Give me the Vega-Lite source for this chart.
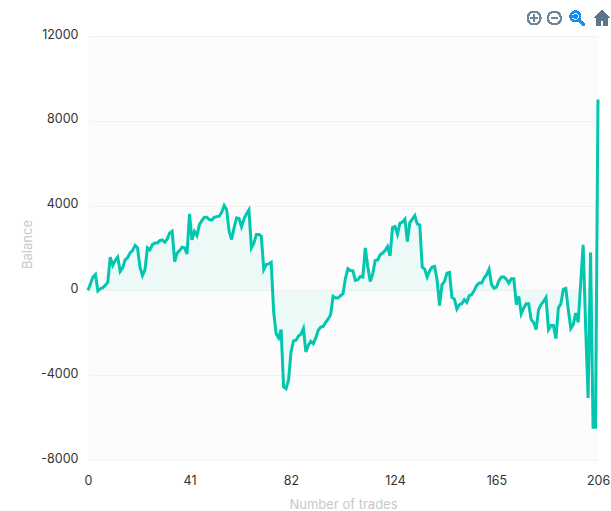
{"$schema":"https://vega.github.io/schema/vega-lite/v6.json","width":510,"height":424,"autosize":{"type":"none"},"padding":{"left":88,"top":36,"right":13,"bottom":51},"background":"#ffffff","view":{"fill":"#fcfcfc","stroke":null},"config":{"font":"Inter"},
"data":{"values":[{"trade":0,"balance":0},{"trade":1,"balance":310},{"trade":2,"balance":630},{"trade":3,"balance":750},{"trade":4,"balance":-30},{"trade":5,"balance":80},{"trade":6,"balance":130},{"trade":7,"balance":240},{"trade":8,"balance":390},{"trade":9,"balance":1570},{"trade":10,"balance":1180},{"trade":11,"balance":1410},{"trade":12,"balance":1570},{"trade":13,"balance":900},{"trade":14,"balance":1070},{"trade":15,"balance":1440},{"trade":16,"balance":1540},{"trade":17,"balance":1770},{"trade":18,"balance":1880},{"trade":19,"balance":2120},{"trade":20,"balance":2010},{"trade":21,"balance":1100},{"trade":22,"balance":700},{"trade":23,"balance":970},{"trade":24,"balance":2010},{"trade":25,"balance":1910},{"trade":26,"balance":2160},{"trade":27,"balance":2230},{"trade":28,"balance":2230},{"trade":29,"balance":2350},{"trade":30,"balance":2380},{"trade":31,"balance":2270},{"trade":32,"balance":2430},{"trade":33,"balance":2710},{"trade":34,"balance":2790},{"trade":35,"balance":1360},{"trade":36,"balance":1760},{"trade":37,"balance":1880},{"trade":38,"balance":2040},{"trade":39,"balance":2010},{"trade":40,"balance":1725},{"trade":41,"balance":3610},{"trade":42,"balance":2380},{"trade":43,"balance":2780},{"trade":44,"balance":2590},{"trade":45,"balance":3100},{"trade":46,"balance":3290},{"trade":47,"balance":3450},{"trade":48,"balance":3450},{"trade":49,"balance":3340},{"trade":50,"balance":3320},{"trade":51,"balance":3450},{"trade":52,"balance":3480},{"trade":53,"balance":3500},{"trade":54,"balance":3690},{"trade":55,"balance":4000},{"trade":56,"balance":3800},{"trade":57,"balance":2790},{"trade":58,"balance":2400},{"trade":59,"balance":2950},{"trade":60,"balance":3420},{"trade":61,"balance":3400},{"trade":62,"balance":3010},{"trade":63,"balance":3370},{"trade":64,"balance":3610},{"trade":65,"balance":3800},{"trade":66,"balance":2010},{"trade":67,"balance":2230},{"trade":68,"balance":2640},{"trade":69,"balance":2640},{"trade":70,"balance":2560},{"trade":71,"balance":990},{"trade":72,"balance":1220},{"trade":73,"balance":1250},{"trade":74,"balance":1320},{"trade":75,"balance":-1020},{"trade":76,"balance":-2040},{"trade":77,"balance":-2240},{"trade":78,"balance":-1850},{"trade":79,"balance":-4550},{"trade":80,"balance":-4640},{"trade":81,"balance":-4240},{"trade":82,"balance":-2900},{"trade":83,"balance":-2380},{"trade":84,"balance":-2350},{"trade":85,"balance":-2150},{"trade":86,"balance":-2070},{"trade":87,"balance":-1800},{"trade":88,"balance":-2900},{"trade":89,"balance":-2600},{"trade":90,"balance":-2400},{"trade":91,"balance":-2510},{"trade":92,"balance":-2240},{"trade":93,"balance":-1880},{"trade":94,"balance":-1730},{"trade":95,"balance":-1700},{"trade":96,"balance":-1510},{"trade":97,"balance":-1350},{"trade":98,"balance":-1150},{"trade":99,"balance":-280},{"trade":100,"balance":-360},{"trade":101,"balance":-360},{"trade":102,"balance":-250},{"trade":103,"balance":-160},{"trade":104,"balance":580},{"trade":105,"balance":1020},{"trade":106,"balance":940},{"trade":107,"balance":925},{"trade":108,"balance":470},{"trade":109,"balance":500},{"trade":110,"balance":660},{"trade":111,"balance":630},{"trade":112,"balance":2000},{"trade":113,"balance":1130},{"trade":114,"balance":420},{"trade":115,"balance":780},{"trade":116,"balance":1410},{"trade":117,"balance":1440},{"trade":118,"balance":1680},{"trade":119,"balance":1760},{"trade":120,"balance":1880},{"trade":121,"balance":2070},{"trade":122,"balance":1630},{"trade":123,"balance":2960},{"trade":124,"balance":3010},{"trade":125,"balance":2650},{"trade":126,"balance":3170},{"trade":127,"balance":3220},{"trade":128,"balance":3360},{"trade":129,"balance":2300},{"trade":130,"balance":3200},{"trade":131,"balance":3360},{"trade":132,"balance":3530},{"trade":133,"balance":3140},{"trade":134,"balance":3090},{"trade":135,"balance":1100},{"trade":136,"balance":1000},{"trade":137,"balance":630},{"trade":138,"balance":925},{"trade":139,"balance":1100},{"trade":140,"balance":1130},{"trade":141,"balance":500},{"trade":142,"balance":-720},{"trade":143,"balance":270},{"trade":144,"balance":420},{"trade":145,"balance":815},{"trade":146,"balance":850},{"trade":147,"balance":-330},{"trade":148,"balance":-410},{"trade":149,"balance":-880},{"trade":150,"balance":-675},{"trade":151,"balance":-630},{"trade":152,"balance":-440},{"trade":153,"balance":-565},{"trade":154,"balance":-250},{"trade":155,"balance":-200},{"trade":156,"balance":0},{"trade":157,"balance":235},{"trade":158,"balance":345},{"trade":159,"balance":345},{"trade":160,"balance":580},{"trade":161,"balance":740},{"trade":162,"balance":1000},{"trade":163,"balance":270},{"trade":164,"balance":110},{"trade":165,"balance":160},{"trade":166,"balance":470},{"trade":167,"balance":630},{"trade":168,"balance":630},{"trade":169,"balance":530},{"trade":170,"balance":345},{"trade":171,"balance":550},{"trade":172,"balance":550},{"trade":173,"balance":-675},{"trade":174,"balance":-280},{"trade":175,"balance":-1110},{"trade":176,"balance":-830},{"trade":177,"balance":-630},{"trade":178,"balance":-630},{"trade":179,"balance":-1380},{"trade":180,"balance":-1510},{"trade":181,"balance":-1850},{"trade":182,"balance":-910},{"trade":183,"balance":-675},{"trade":184,"balance":-520},{"trade":185,"balance":-330},{"trade":186,"balance":-1850},{"trade":187,"balance":-1660},{"trade":188,"balance":-1660},{"trade":189,"balance":-2270},{"trade":190,"balance":-830},{"trade":191,"balance":-630},{"trade":192,"balance":60},{"trade":193,"balance":90},{"trade":194,"balance":-910},{"trade":195,"balance":-1800},{"trade":196,"balance":-1615},{"trade":197,"balance":-1070},{"trade":198,"balance":-1510},{"trade":199,"balance":345},{"trade":200,"balance":2150},{"trade":201,"balance":-1700},{"trade":202,"balance":-5070},{"trade":203,"balance":1790},{"trade":204,"balance":-6460},{"trade":205,"balance":-6460},{"trade":206,"balance":9000}]},
"layer":[
{"mark":{"type":"area","color":"#00c4ac","opacity":0.06,"interpolate":"linear"},"encoding":{
"x":{"field":"trade","type":"quantitative","scale":{"domain":[0,206],"nice":false,"zero":false},"axis":{"values":[0,41,82,124,165,206],"title":"Number of trades","titleColor":"#c8c8c8","titleFontSize":13,"titleFontWeight":"normal","titlePadding":12,"labelColor":"#333333","labelFontSize":12.5,"labelPadding":14,"ticks":false,"domain":false,"grid":false,"labelFlush":false}},
"y":{"field":"balance","type":"quantitative","scale":{"domain":[-8000,12000],"nice":false},"axis":{"values":[-8000,-4000,0,4000,8000,12000],"title":"Balance","titleColor":"#c8c8c8","titleFontSize":13,"titleFontWeight":"normal","titlePadding":6,"titleY":208,"labelColor":"#333333","labelFontSize":12.5,"labelPadding":10,"labelOffset":-2,"ticks":false,"domain":false,"grid":true,"gridColor":"#f3f3f3","gridWidth":1,"labelExpr":"''+datum.value"}},
"y2":{"datum":0}}},
{"mark":{"type":"line","color":"#03c6ae","strokeWidth":3,"interpolate":"linear","strokeJoin":"miter","clip":false},"encoding":{"x":{"field":"trade","type":"quantitative"},"y":{"field":"balance","type":"quantitative"}}},
{"mark":{"type":"point","size":169,"filled":false,"stroke":"#71869a","strokeWidth":1.2,"opacity":1,"clip":false,"shape":"M-1,0A1,1 0 1,1 1,0A1,1 0 1,1 -1,0ZM-0.5,0L0.5,0M0,-0.5L0,0.5"},"encoding":{"x":{"datum":180.2},"y":{"datum":12850}}},
{"mark":{"type":"point","size":169,"filled":false,"stroke":"#71869a","strokeWidth":1.2,"opacity":1,"clip":false,"shape":"M-1,0A1,1 0 1,1 1,0A1,1 0 1,1 -1,0ZM-0.5,0L0.5,0"},"encoding":{"x":{"datum":188.4},"y":{"datum":12850}}},
{"mark":{"type":"point","size":256,"filled":false,"stroke":"#1b8fe8","strokeWidth":1.7,"opacity":1,"clip":false,"shape":"M-0.8,-0.2A0.6,0.6 0 1,1 0.4,-0.2A0.6,0.6 0 1,1 -0.8,-0.2ZM0.22,0.22L0.9,0.9M-0.5,-0.2L0.1,-0.2M-0.2,-0.5L-0.2,0.1"},"encoding":{"x":{"datum":197.5},"y":{"datum":12850}}},
{"mark":{"type":"point","size":256,"filled":true,"fill":"#5f7488","stroke":null,"opacity":1,"clip":false,"shape":"M-1,0L0,-0.9L1,0L0.7,0L0.7,0.9L0.2,0.9L0.2,0.3L-0.2,0.3L-0.2,0.9L-0.7,0.9L-0.7,0Z"},"encoding":{"x":{"datum":207.6},"y":{"datum":12850}}}
]}
